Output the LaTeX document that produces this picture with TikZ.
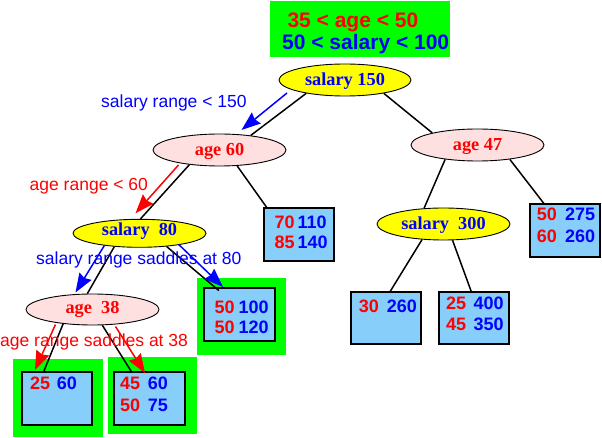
\documentclass[tikz,border=0pt]{standalone}
\usepackage{fontspec}
\setmainfont{Liberation Serif}
\setsansfont{Liberation Sans}
\usetikzlibrary{shapes.geometric,arrows.meta,calc}
\definecolor{ellY}{RGB}{255,255,0}
\definecolor{ellP}{RGB}{255,224,224}
\definecolor{boxB}{RGB}{135,206,250}
\definecolor{grn}{RGB}{0,255,0}
\definecolor{txR}{RGB}{255,0,0}
\definecolor{txB}{RGB}{0,0,255}
\tikzset{
  ell/.style={ellipse, draw=black, line width=0.9pt, minimum width=133pt, minimum height=32pt,
    inner sep=0pt, font=\fontsize{18.3}{20}\selectfont\bfseries, text height=12pt, text depth=0pt},
  yell/.style={ell, fill=ellY, text=txB},
  pink/.style={ell, fill=ellP, text=txR},
  databox/.style={draw=black, line width=1.2pt, fill=boxB, minimum width=70pt, minimum height=53pt, inner sep=0pt},
  num/.style={anchor=base west, inner sep=0pt, font=\sffamily\bfseries\fontsize{18}{20}\selectfont},
  rnum/.style={num, text=txR},
  bnum/.style={num, text=txB},
  big/.style={anchor=base west, inner sep=0pt, font=\sffamily\bfseries\fontsize{21}{24}\selectfont},
  note/.style={anchor=base west, inner sep=0pt, font=\sffamily\fontsize{17.5}{20}\selectfont},
  edge/.style={line width=1.5pt, draw=black},
  harrow/.style={line width=1.5pt, -{Stealth[length=19pt,width=14pt,inset=2pt]}},
}
\begin{document}
\begin{tikzpicture}[x=1pt,y=-1pt]
\useasboundingbox (0,0) rectangle (602,438);
% green highlight areas
\fill[grn] (270,1) rectangle (450,57);
\fill[grn] (197,278) rectangle (286,355);
\fill[grn] (13,359) rectangle (103,437);
\fill[grn] (108,357) rectangle (197,434);
% top condition text
\node[big, text=txR] (t1) at (287.3,27.3) {35 < age < 50};
\node[big, text=txB] (t2) at (282,49.3) {50 < salary < 100};
% tree nodes
\node[yell, minimum width=132pt] (s150) at (345,80) {salary 150};
\node[pink] (a60) at (219.5,150) {age 60};
\node[pink] (a47) at (477.5,145) {age 47};
\node[yell, minimum height=28pt, text depth=7pt] (s80) at (139.5,233.3) {salary\ \ 80};
\node[pink, minimum height=31pt, text depth=4.4pt] (a38) at (92.5,309.5) {age\ \ 38};
\node[yell, text depth=1.4pt] (s300) at (443.5,224) {salary\ \ 300};
% leaf boxes
\node[databox] (b70) at (299,234.5) {};
\node[databox, minimum width=71pt] (b50100) at (239.5,314.5) {};
\node[databox] (b25) at (57,398.5) {};
\node[databox, minimum width=71pt] (b45) at (149.5,398.5) {};
\node[databox, minimum height=52pt] (b30) at (386,318) {};
\node[databox, minimum height=52pt] (b25400) at (474,318) {};
\node[databox] (b50275) at (565,230.5) {};
% box contents
\node[rnum] (n70) at (274.3,229) {70};
\node[rnum] (n85) at (274.3,249) {85};
\node[bnum] (n110) at (297.3,229) {110};
\node[bnum] (n140) at (297.3,249) {140};
\node[rnum] (n50a) at (214.3,313.3) {50};
\node[rnum] (n50b) at (214.3,333.3) {50};
\node[bnum] (n100) at (238.3,313.3) {100};
\node[bnum] (n120) at (238.3,333.3) {120};
\node[rnum] (n25) at (30,389.3) {25};
\node[bnum] (n60) at (56.6,389.3) {60};
\node[rnum] (n45) at (120,389.3) {45};
\node[rnum] (n50c) at (120,411) {50};
\node[bnum] (n60b) at (147.6,389.3) {60};
\node[bnum] (n75) at (147.6,411) {75};
\node[rnum] (n30) at (358.6,312.3) {30};
\node[bnum] (n260) at (386.6,312.3) {260};
\node[rnum] (n25b) at (446,309.3) {25};
\node[rnum] (n45b) at (446,330) {45};
\node[bnum] (n400) at (473.3,309.3) {400};
\node[bnum] (n350) at (473.3,330) {350};
\node[rnum] (n50d) at (536.6,221) {50};
\node[rnum] (n60c) at (536.6,242.3) {60};
\node[bnum] (n275) at (565,221) {275};
\node[bnum] (n260b) at (565,242.3) {260};
% tree edges
\draw[edge] (s150.199.4) -- (a60.25);
\draw[edge] (s150.341) -- (a47.165);
\draw[edge] (a60.206) -- (s80.86);
\draw[edge] (a60.318.6) -- (b70.140.4);
\draw[edge] (a47.204) -- (s300.141);
\draw[edge] (a47.336.4) -- (b50275.128.4);
\draw[edge] (s300.216) -- (b30.81.3);
\draw[edge] (s300.299.4) -- (b25400.96.6);
\draw[edge] (s80.208.3) -- (a38.108.4);
\draw[edge, shorten >=-5pt] (s80.334.3) -- (b50100.132.8);
\draw[edge] (a38.206.6) -- (b25.116.1);
\draw[edge] (a38.302.9) -- (b45.124.9);
% range arrows
\draw[harrow, txB] ($(s150)+(-58,13)$) -- ($(a60)+(22,-20)$);
\draw[harrow, txR] ($(a60)+(-41,15)$) -- ($(s80)+(-4,-20)$);
\draw[harrow, txB] ($(s80)+(-35,12)$) -- ($(a38)+(-17,-17)$);
\draw[harrow, txB] ($(s80)+(39,11)$) -- ($(b50100)+(-16.5,-27.5)$);
\draw[harrow, txR] ($(a38)+(-37,15)$) -- ($(b25)+(-22,-28.5)$);
\draw[harrow, txR] ($(a38)+(23,17)$) -- ($(b45)+(-4.5,-25.5)$);
% arrow labels
\node[note, text=txB] (l1) at (101,107.7) {salary range < 150};
\node[note, text=txR] (l2) at (29.5,190.7) {age range < 60};
\node[note, text=txB] (l3) at (36,265) {salary range saddles at 80};
\node[note, text=txR] (l4) at (0,346.7) {age range saddles at 38};
\end{tikzpicture}
\end{document}
